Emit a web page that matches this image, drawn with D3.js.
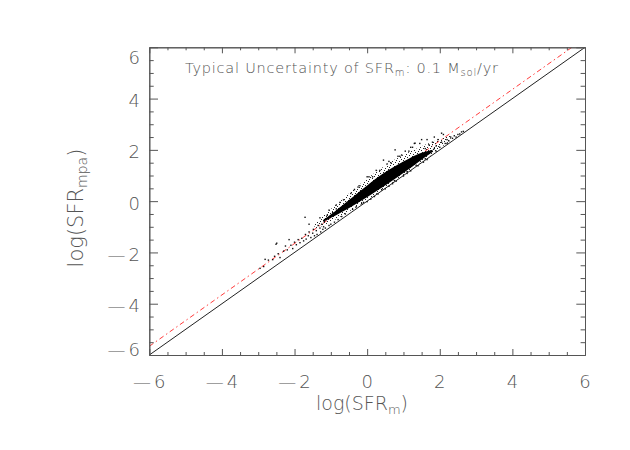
<!DOCTYPE html>
<html>
<head>
<meta charset="utf-8">
<script src="https://cdn.jsdelivr.net/npm/d3@7"></script>
<style>
  body { margin: 0; background: #fff; }
  text { font-family: "DejaVu Sans", sans-serif; font-weight: 200; fill: #555; }
</style>
</head>
<body>
<svg width="630" height="450"></svg>
<script>
const svg = d3.select("svg")

// axis ticks
const majorTicks = [-6, -4, -2, 0, 2, 4, 6]
const minorTicks = d3.range(-6, 6.01, 0.5).filter(v => v % 2 !== 0)

// reference lines
const oneX = [-6, 6]
const oneY = [-6, 6]
const fitX = [-6, 5.64]
const fitY = [-5.66, 6]

// dense part of the cloud (saturated)
const coreX = [-1.2, -0.9, -0.5, 0.0, 0.4, 0.8, 1.2, 1.5, 1.8]
const coreLo = [-0.8, -0.58, -0.28, 0.16, 0.52, 0.9, 1.3, 1.62, 1.92]
const coreHi = [-0.72, -0.42, 0.04, 0.62, 1.05, 1.4, 1.7, 1.9, 2.0]

// less dense fringe around it
const fringeX = [-1.45, -1.0, -0.5, 0.0, 0.5, 1.0, 1.5, 1.9, 2.3]
const fringeLo = [-1.1, -0.82, -0.42, 0.04, 0.52, 1.02, 1.53, 1.96, 2.36]
const fringeHi = [-0.9, -0.3, 0.3, 0.9, 1.4, 1.82, 2.15, 2.38, 2.58]

// sparse galaxies: log(SFR_m), log(SFR_mpa)
const sfrM = [
  -2.95, -2.85, -2.81, -2.72, -2.6, -2.55, -2.51, -2.49, -2.45, -2.4, -2.3, -2.25, -2.2, -2.1,
  -2.05, -2.0, -1.95, -1.9, -1.85, -1.8, -1.75, -1.71, -1.7, -1.68, -1.62, -1.6, -1.55, -1.5,
  -1.48, -1.45, -1.4, -1.38, -1.35, -1.3, -1.28, -1.25, -1.22, -1.2, -1.18, -1.15, -1.1, -1.05,
  -1.0, -0.95, -0.9, -0.85, -0.8, -0.7, -0.6, -0.55, -0.4, -0.3, -0.2, -0.1, 0.0, 0.1, 0.2,
  0.3, 0.45, 0.5, 0.6, 0.7, 0.77, 0.8, 0.9, 1.0, 1.1, 1.2, 1.3, 1.32, 1.4, 1.5, 1.55, 1.6,
  1.65, 1.7, 1.75, 1.8, 1.85, 1.9, 1.95, 2.0, 2.05, 2.1, 2.15, 2.2, 2.25, 2.3, 2.35, 2.4,
  2.45, 2.5, 2.55, 2.6, 2.65, -0.75, -0.35, 0.15, 0.65, 1.15, -1.6, -2.15, 0.35, 0.95,
  -1.05, -0.65, -0.45, -0.25, 0.05, 0.25, 0.55, 0.85, 1.05, 1.25, 1.45, 1.65, 1.85, 2.05,
  -0.15, 0.4, 0.75, 1.1, 1.35, 1.6, 1.9, 2.2, -1.3, -0.85, 0.0, 0.6, 1.2
]
const sfrMpa = [
  -2.62, -2.55, -2.27, -2.3, -2.28, -2.15, -1.68, -1.64, -2.05, -2.2, -1.95, -1.75, -1.9, -1.72,
  -1.85, -1.6, -1.7, -1.5, -1.62, -1.45, -1.55, -0.63, -1.3, -1.48, -1.35, -1.2, -1.42, -1.25,
  -1.1, -1.35, -1.15, -1.3, -0.95, -1.05, -1.2, -0.9, -1.1, -1.0, -0.8, -1.05, -0.55, -0.95,
  -0.9, -0.45, -0.82, -0.3, -0.72, -0.6, -0.5, -0.05, -0.32, -0.22, 0.6, -0.05, -0.02, 0.08, 0.18,
  0.28, 1.6, 0.48, 0.58, 0.68, 2.0, 0.78, 1.75, 0.98, 1.08, 1.18, 2.25, 2.26, 1.38, 2.4, 1.52, 2.05,
  1.62, 2.2, 1.95, 2.3, 2.05, 2.15, 2.4, 2.1, 2.3, 2.6, 2.25, 2.4, 2.35, 2.5, 2.45, 2.55,
  2.5, 2.6, 2.62, 2.7, 2.72, -0.05, 0.45, 0.95, 1.5, 1.95, -0.9, -1.5, 1.2, 1.8,
  -0.35, 0.05, 0.3, 0.55, 0.95, 1.2, 1.45, 1.75, 1.95, 2.1, 2.25, 2.4, 2.5, 2.65,
  -0.1, 0.45, 0.8, 1.15, 1.4, 1.65, 1.95, 2.25, -0.65, -0.15, 0.95, 1.55, 2.1
]

const x = d3.scaleLinear().domain([-6, 6]).range([149.3, 585])
const y = d3.scaleLinear().domain([-6, 6]).range([355, 47.3])

const defs = svg.append("defs")
defs.append("clipPath").attr("id", "plot")
  .append("rect").attr("x", 149.3).attr("y", 47.3).attr("width", 435.7).attr("height", 307.7)
// speckle texture for the fringe of the cloud
const pat = defs.append("pattern").attr("id", "speckle").attr("patternUnits", "userSpaceOnUse")
  .attr("width", 7).attr("height", 7)
;[[0, 0], [3, 1], [5, 4], [1, 3], [4, 6], [6, 2], [2, 5]].forEach(p => {
  pat.append("rect").attr("x", p[0]).attr("y", p[1]).attr("width", 1).attr("height", 1).attr("fill", "#222")
})

const plot = svg.append("g").attr("clip-path", "url(#plot)")

const line = d3.line().x(d => x(d[0])).y(d => y(d[1]))
plot.append("path").datum(oneX.map((v, i) => [v, oneY[i]]))
  .attr("d", line).attr("stroke", "#222").attr("stroke-width", 1).attr("fill", "none")
plot.append("path").datum(fitX.map((v, i) => [v, fitY[i]]))
  .attr("d", line).attr("stroke", "#ff3b3b").attr("stroke-width", 1)
  .attr("stroke-dasharray", "5,3,1.5,3").attr("fill", "none")

// cloud
const band = d3.area().x(d => x(d[0])).y0(d => y(d[1])).y1(d => y(d[2])).curve(d3.curveBasis)
plot.append("path").datum(fringeX.map((v, i) => [v, fringeLo[i], fringeHi[i]]))
  .attr("d", band).attr("fill", "url(#speckle)")
plot.append("path").datum(coreX.map((v, i) => [v, coreLo[i], coreHi[i]]))
  .attr("d", band).attr("fill", "#000")

plot.selectAll("rect.pt").data(sfrM).join("rect").attr("class", "pt")
  .attr("x", (d, i) => x(d) - 0.7).attr("y", (d, i) => y(sfrMpa[i]) - 0.7)
  .attr("width", 1.4).attr("height", 1.4).attr("fill", "#111")

// axes, ticks pointing inward on all four sides
function ticks(axis, vals, len) {
  return axis.tickValues(vals).tickSizeInner(-len).tickSizeOuter(0).tickFormat("")
}
const axes = svg.append("g").attr("stroke-width", 1)
const add = (ax, tr) => {
  const g = axes.append("g").attr("transform", tr).call(ax)
  g.selectAll("line").attr("stroke", "#555")
  g.select(".domain").attr("stroke", "#555")
}
add(ticks(d3.axisBottom(x), majorTicks, 6), "translate(0,355)")
add(ticks(d3.axisBottom(x), minorTicks, 3), "translate(0,355)")
add(ticks(d3.axisTop(x), majorTicks, 6), "translate(0,47.3)")
add(ticks(d3.axisTop(x), minorTicks, 3), "translate(0,47.3)")
add(ticks(d3.axisLeft(y), majorTicks, 8.7), "translate(149.3,0)")
add(ticks(d3.axisLeft(y), minorTicks, 4.4), "translate(149.3,0)")
add(ticks(d3.axisRight(y), majorTicks, 8.7), "translate(585,0)")
add(ticks(d3.axisRight(y), minorTicks, 4.4), "translate(585,0)")

function label(sel, v) {
  if (v < 0) {
    sel.append("tspan").text("\u2014")
    sel.append("tspan").attr("dx", 3).text(Math.abs(v))
  } else sel.text(v)
}
majorTicks.forEach(v => {
  const t = svg.append("text").attr("x", x(v)).attr("y", 388)
    .attr("text-anchor", "middle").attr("font-size", 18)
  label(t, v)
})
majorTicks.forEach(v => {
  let yy = y(v) + 8.5
  if (v === 6) yy = 64
  if (v === -6) yy = 355.5
  const t = svg.append("text").attr("x", 140).attr("y", yy)
    .attr("text-anchor", "end").attr("font-size", 18)
  label(t, v)
})

// axis titles
const xt = svg.append("text").attr("x", 362).attr("y", 410)
  .attr("text-anchor", "middle").attr("font-size", 19)
xt.append("tspan").text("log(SFR")
xt.append("tspan").attr("font-size", 13).attr("dy", 4).text("m")
xt.append("tspan").attr("dy", -4).text(")")

const yt = svg.append("text").attr("transform", "translate(83,208) rotate(-90)")
  .attr("text-anchor", "middle").attr("font-size", 21)
yt.append("tspan").text("log(SFR")
yt.append("tspan").attr("font-size", 14).attr("dy", 4).text("mpa")
yt.append("tspan").attr("dy", -4).text(")")

// annotation
const note = svg.append("text").attr("x", 185).attr("y", 73.3).attr("font-size", 14.5)
  .attr("textLength", 313).attr("lengthAdjust", "spacing")
note.append("tspan").text("Typical Uncertainty of SFR")
note.append("tspan").attr("font-size", 10).attr("dy", 3).text("m")
note.append("tspan").attr("dy", -3).text(": 0.1 M")
note.append("tspan").attr("font-size", 10).attr("dy", 3).text("sol")
note.append("tspan").attr("dy", -3).text("/yr")
</script>
</body>
</html>
